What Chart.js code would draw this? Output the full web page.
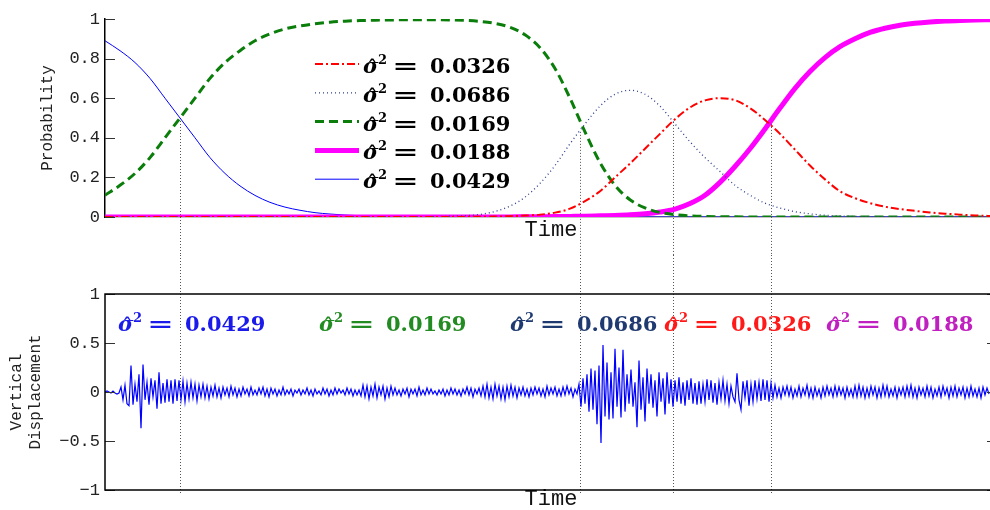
<!DOCTYPE html>
<html>
<head>
<meta charset="utf-8">
<title>Change point posterior probabilities</title>
<script src="https://cdn.jsdelivr.net/npm/chart.js@4.4.1/dist/chart.umd.min.js"></script>
<style>
    html, body { margin: 0; padding: 0; background: #fff; overflow: hidden; width: 990px; height: 510px; }
    #wrap { position: relative; width: 997px; height: 510px; }
    canvas { position: absolute; left: 0; display: block; }
    #probChart { top: 0; }
    #dispChart { top: 255px; }
</style>
</head>
<body>
<div id="wrap">
    <canvas id="probChart" width="997" height="255"></canvas>
    <canvas id="dispChart" width="997" height="255"></canvas>
</div>
<script>
// Time grid of the segment probability curves
const probTimes = [
    0, 15, 30, 45, 60, 75, 90, 105, 120, 135,
    150, 165, 180, 195, 210, 225, 240, 255, 270, 285,
    300, 315, 330, 345, 360, 375, 390, 405, 420, 435,
    450, 465, 480, 495, 510, 525, 540, 555, 570, 585,
    600, 615, 630, 645, 660, 675, 690, 705, 720, 735,
    750, 765, 780, 795, 810, 825, 840, 855, 870, 885
];

// Posterior probability of each segment
const probRed = [
    0, 0, 0, 0, 0, 0, 0, 0, 0, 0,
    0, 0, 0, 0, 0, 0, 0, 0, 0, 0,
    0, 0, 0, 0, 0.0005, 0.001, 0.002, 0.004, 0.007, 0.012,
    0.022, 0.042, 0.08, 0.13, 0.20, 0.27, 0.345, 0.42, 0.494, 0.553,
    0.589, 0.60, 0.59, 0.55, 0.49, 0.42, 0.34, 0.26, 0.19, 0.13,
    0.095, 0.07, 0.052, 0.04, 0.031, 0.023, 0.017, 0.012, 0.008, 0.005
];
const probDotted = [
    0, 0, 0, 0, 0, 0, 0, 0, 0, 0,
    0, 0, 0, 0, 0, 0, 0, 0, 0, 0,
    0.0005, 0.001, 0.002, 0.004, 0.007, 0.013, 0.028, 0.055, 0.10, 0.17,
    0.26, 0.37, 0.47, 0.56, 0.62, 0.64, 0.62, 0.56, 0.47, 0.38,
    0.30, 0.23, 0.16, 0.11, 0.07, 0.045, 0.027, 0.016, 0.009, 0.005,
    0.003, 0.0015, 0.0008, 0.0004, 0, 0, 0, 0, 0, 0
];
const probGreen = [
    0.11, 0.16, 0.22, 0.30, 0.40, 0.50, 0.60, 0.70, 0.78, 0.84,
    0.89, 0.925, 0.95, 0.965, 0.976, 0.984, 0.989, 0.992, 0.994, 0.995,
    0.996, 0.996, 0.996, 0.995, 0.993, 0.988, 0.978, 0.958, 0.92, 0.855,
    0.75, 0.60, 0.43, 0.275, 0.16, 0.087, 0.046, 0.023, 0.012, 0.006,
    0.003, 0.0015, 0.0008, 0.0004, 0.0002, 0.0001, 0, 0, 0, 0,
    0, 0, 0, 0, 0, 0, 0, 0, 0, 0
];
const probMagenta = [
    0, 0, 0, 0, 0, 0, 0, 0, 0, 0,
    0, 0, 0, 0, 0, 0, 0, 0, 0, 0,
    0, 0, 0, 0, 0, 0, 0, 0.0005, 0.001, 0.0015,
    0.002, 0.003, 0.004, 0.006, 0.008, 0.011, 0.016, 0.025, 0.04, 0.068,
    0.11, 0.175, 0.255, 0.345, 0.445, 0.55, 0.65, 0.735, 0.805, 0.86,
    0.90, 0.932, 0.953, 0.968, 0.978, 0.985, 0.99, 0.993, 0.995, 0.996
];
const probBlue = [
    0.89, 0.84, 0.78, 0.70, 0.60, 0.50, 0.40, 0.30, 0.22, 0.157,
    0.109, 0.074, 0.05, 0.034, 0.022, 0.015, 0.01, 0.0065, 0.0043, 0.0028,
    0.0018, 0.0012, 0.0008, 0.0005, 0.0003, 0.0002, 0.0001, 0, 0, 0,
    0, 0, 0, 0, 0, 0, 0, 0, 0, 0,
    0, 0, 0, 0, 0, 0, 0, 0, 0, 0,
    0, 0, 0, 0, 0, 0, 0, 0, 0, 0
];

// Estimated variance for each curve, in legend order
const curveVariance = ['0.0326', '0.0686', '0.0169', '0.0188', '0.0429'];
// Estimated variance of each segment, left to right
const segmentVariance = ['0.0429', '0.0169', '0.0686', '0.0326', '0.0188'];

const probTickValues = [0, 0.2, 0.4, 0.6, 0.8, 1];
const probTickLabels = ['0', '0.2', '0.4', '0.6', '0.8', '1'];
const dispTickValues = [-1, -0.5, 0, 0.5, 1];
const dispTickLabels = ['\u22121', '\u22120.5', '0', '0.5', '1'];

// Detected change points and the probability where each marker starts
const changeTimes = [75, 474.5, 567.5, 666];
const changeProbs = [0.5, 0.43, 0.48, 0.47];

// Seismometer trace, one sample every SAMPLE_STEP time units
const SAMPLE_STEP = 2;
const displacement = [
    0, 0.01, 0, -0.01, 0.01, -0.01, -0.02, -0.01,
    0.05, -0.08, 0.07, -0.12, -0.14, 0.27, -0.13, 0.08, -0.10, 0.18,
    -0.37, 0.28, -0.08, 0.10, -0.13, 0.14, -0.05, 0.12, -0.17, 0.20,
    -0.12, 0.09, -0.11, 0.13, -0.10, 0.12, -0.12, 0.13, -0.09, 0.12,
    -0.08, 0.11, -0.10,
    0.09, -0.07, 0.10, -0.06, 0.08, -0.09, 0.07, -0.05, 0.08, -0.06,
    0.06, -0.07, 0.05, -0.04, 0.07, -0.05, 0.04, -0.06, 0.05, -0.03,
    0.04, -0.05, 0.06, -0.03, 0.04, -0.05, 0.03, -0.04, 0.05, -0.02,
    0.03, -0.04, 0.05, -0.03, 0.02,
    -0.03, 0.04, -0.02, 0.05, -0.04, 0.03, -0.05, 0.04, -0.02, 0.03,
    -0.04, 0.02, -0.03, 0.05, -0.03, 0.02, -0.02, 0.03, -0.04, 0.02,
    -0.01, 0.03, -0.03, 0.02, -0.02, 0.04, -0.03, 0.02, -0.04, 0.03,
    -0.02, 0.01, -0.03, 0.04, -0.02, 0.03, -0.04, 0.02, -0.03, 0.04,
    -0.02, 0.03, -0.01, 0.02, -0.03, 0.04, -0.02, 0.03, -0.04, 0.02,
    -0.03, 0.02,
    -0.04, 0.07, -0.05, 0.06, -0.07, 0.05, -0.04, 0.08, -0.06, 0.05,
    -0.03, 0.06, -0.07, 0.04, -0.05, 0.06, -0.03,
    0.04, -0.03, 0.02, -0.04, 0.03, -0.02, 0.04, -0.05, 0.03, -0.02,
    0.03, -0.04, 0.05, -0.03, 0.02, -0.03, 0.04, -0.02, 0.03, -0.02,
    0.01, -0.03, 0.02, -0.02, 0.03, -0.04, 0.02, -0.03, 0.04, -0.02,
    0.03, -0.03, 0.02, -0.04, 0.03, -0.02, 0.05, -0.03, 0.04, -0.05,
    0.03, -0.02, 0.04,
    -0.04, 0.06, -0.05, 0.08, -0.06, 0.05, -0.07, 0.08, -0.04, 0.06,
    -0.07, 0.05, -0.08, 0.06, -0.05, 0.07, -0.04, 0.05, -0.06,
    0.04, -0.03, 0.05, -0.04, 0.03, -0.05, 0.04, -0.03, 0.05, -0.02,
    0.04, -0.04, 0.03, -0.05, 0.06, -0.03, 0.04, -0.02, 0.05, -0.04,
    0.03, -0.04, 0.05, -0.03, 0.06, -0.02, 0.04, -0.05, 0.03, -0.02,
    0.08, -0.15, 0.14, -0.12, 0.18, -0.20, 0.24, -0.18, 0.22, -0.33,
    0.27, -0.52, 0.48, -0.25, 0.30, -0.28, 0.20, -0.27, 0.44, -0.15,
    0.25, -0.26, 0.43, -0.20, 0.18, -0.12, 0.23, -0.15, 0.10, -0.36,
    0.32, -0.18, 0.15, -0.30, 0.24, -0.12, 0.18, -0.16, 0.12, -0.25,
    0.20, -0.10, 0.14, -0.23, 0.20, -0.12, 0.13, -0.15, 0.12, -0.10,
    0.15, -0.12, 0.10, -0.14, 0.12, -0.08, 0.14, -0.12, 0.09, -0.13,
    0.11,
    -0.12, 0.08, -0.10, 0.13, -0.08, 0.12, -0.11, 0.09, -0.13, 0.10,
    -0.07, 0.12, -0.09, 0.08, -0.12, 0.06, -0.05, -0.10, 0.19, -0.08,
    -0.18, 0.11, -0.06, 0.12, -0.14, 0.08, -0.10, 0.12, -0.07, 0.10,
    -0.09, 0.13, -0.08, 0.12, -0.10, 0.09, -0.06, 0.07,
    -0.05, 0.04, -0.06, 0.05, -0.03, 0.06, -0.04, 0.05, -0.06, 0.03,
    -0.04, 0.06, -0.05, 0.04, -0.03, 0.07, -0.05, 0.04, -0.06, 0.05,
    -0.04, 0.03, -0.06, 0.05, -0.04, 0.06, -0.03, 0.04, -0.05, 0.06,
    -0.04, 0.05, -0.03, 0.04, -0.06, 0.05, -0.04, 0.03, -0.05, 0.06,
    -0.05, 0.07, -0.04, 0.05, -0.06, 0.04, -0.05, 0.06, -0.03, 0.05,
    -0.06, 0.04, -0.05, 0.07, -0.04, 0.06, -0.05, 0.03, -0.04, 0.05,
    -0.06, 0.04, -0.03, 0.05, -0.05, 0.06, -0.04, 0.07, -0.05, 0.04,
    -0.06, 0.05, -0.03, 0.04, -0.05, 0.06, -0.04, 0.05, -0.06, 0.03,
    -0.04, 0.05, -0.05, 0.06, -0.03, 0.04, -0.06, 0.05, -0.04, 0.06,
    -0.05, 0.04, -0.03, 0.05, -0.06, 0.04, -0.05, 0.06, -0.04, 0.03,
    -0.05, 0.04, -0.06, 0.05, -0.03, 0.04, -0.02
];

const MONO = "'Liberation Mono', 'DejaVu Sans Mono', monospace";
const SERIF = "'DejaVu Serif', serif";
const X_MAX = 892;

function points(xs, ys) {
    return ys.map((v, i) => ({ x: xs[i], y: v }));
}

// Draws "σ̂² = value" in a bold math style
function drawSigmaLabel(ctx, x, baseline, value, color) {
    ctx.save();
    ctx.fillStyle = color;
    ctx.textBaseline = 'alphabetic';
    ctx.textAlign = 'left';
    ctx.font = 'italic bold 21px ' + SERIF;
    ctx.fillText('\u03C3', x, baseline);
    const sw = ctx.measureText('\u03C3').width;
    ctx.font = 'bold 18px ' + SERIF;
    ctx.textAlign = 'center';
    ctx.fillText('\u02C6', x + sw / 2 + 1.5, baseline + 1);
    ctx.textAlign = 'left';
    ctx.font = 'bold 13px ' + SERIF;
    ctx.fillText('2', x + sw - 0.5, baseline - 9);
    ctx.font = 'bold 21px ' + SERIF;
    ctx.save();
    ctx.translate(x + 42.5, baseline);
    ctx.scale(1.5, 1);
    ctx.textAlign = 'center';
    ctx.fillText('=', 0, 0);
    ctx.restore();
    ctx.fillText(value, x + 67, baseline);
    ctx.restore();
}

// Dotted change point markers
const changePoints = {
    id: 'changePoints',
    beforeDatasetsDraw(chart, args, opts) {
        const { ctx, chartArea, scales: { x, y } } = chart;
        ctx.save();
        ctx.strokeStyle = '#555';
        ctx.lineWidth = 1;
        ctx.setLineDash([1, 2]);
        changeTimes.forEach((t, i) => {
            const px = Math.round(x.getPixelForValue(t)) + 0.5;
            const y0 = opts.fromProb ? y.getPixelForValue(changeProbs[i]) : 0;
            const y1 = opts.fromProb ? chart.height : chartArea.bottom + 5;
            ctx.beginPath();
            ctx.moveTo(px, y0);
            ctx.lineTo(px, y1);
            ctx.stroke();
        });
        ctx.restore();
    }
};

// Tick marks drawn inside the plot box
const inwardTicks = {
    id: 'inwardTicks',
    afterDatasetsDraw(chart, args, opts) {
        const { ctx, chartArea, scales: { y } } = chart;
        ctx.save();
        ctx.strokeStyle = '#333';
        ctx.lineWidth = 1;
        y.ticks.forEach(t => {
            const py = Math.round(y.getPixelForValue(t.value)) + 0.5;
            ctx.beginPath();
            ctx.moveTo(chartArea.left, py);
            ctx.lineTo(chartArea.left + 10, py);
            if (opts.both) {
                ctx.moveTo(chartArea.right, py);
                ctx.lineTo(chartArea.right - 10, py);
            }
            ctx.stroke();
        });
        ctx.restore();
    }
};

// Legend with line samples and variance labels
const curveLegend = {
    id: 'curveLegend',
    afterDatasetsDraw(chart) {
        const { ctx } = chart;
        chart.data.datasets.forEach((ds, i) => {
            const rowY = 64 + i * 28.8;
            ctx.save();
            ctx.strokeStyle = ds.borderColor;
            ctx.lineWidth = ds.borderWidth;
            ctx.setLineDash(ds.borderDash || []);
            ctx.beginPath();
            ctx.moveTo(315, rowY);
            ctx.lineTo(359, rowY);
            ctx.stroke();
            ctx.restore();
            drawSigmaLabel(ctx, 363, rowY + 9, curveVariance[i], '#000');
        });
    }
};

// Box around the displacement panel and the per-segment labels
const segmentLabels = {
    id: 'segmentLabels',
    afterDatasetsDraw(chart, args, opts) {
        const { ctx, chartArea } = chart;
        ctx.save();
        ctx.strokeStyle = '#000';
        ctx.lineWidth = 1.5;
        ctx.strokeRect(chartArea.left, chartArea.top, chartArea.right - chartArea.left, chartArea.bottom - chartArea.top);
        ctx.restore();
        segmentVariance.forEach((v, i) => {
            drawSigmaLabel(ctx, opts.left[i], opts.baseline, v, opts.colors[i]);
        });
    }
};

const tickFont = { family: MONO, size: 17 };
const titleFont = { family: MONO, size: 16 };

// Segment probability panel
new Chart(document.getElementById('probChart'), {
    type: 'line',
    data: {
        datasets: [
            { data: points(probTimes, probRed), borderColor: '#ff0000', borderWidth: 2, borderDash: [8, 3, 2, 3] },
            { data: points(probTimes, probDotted), borderColor: '#2d3f8e', borderWidth: 1.3, borderDash: [1, 3] },
            { data: points(probTimes, probGreen), borderColor: '#0a7d0a', borderWidth: 3, borderDash: [9, 5] },
            { data: points(probTimes, probMagenta), borderColor: '#ff00ff', borderWidth: 5 },
            { data: points(probTimes, probBlue), borderColor: '#0000ff', borderWidth: 1 }
        ]
    },
    options: {
        responsive: false,
        animation: false,
        layout: { padding: { top: 19, left: 0, right: 0, bottom: 0 } },
        elements: { point: { radius: 0 }, line: { cubicInterpolationMode: 'monotone', fill: false } },
        plugins: {
            legend: { display: false },
            tooltip: { enabled: false },
            changePoints: { fromProb: true },
            inwardTicks: { both: false }
        },
        scales: {
            x: {
                type: 'linear',
                min: 0,
                max: X_MAX,
                ticks: { display: false },
                grid: { display: false, drawTicks: false },
                border: { color: '#8a8a8a', width: 1.5 },
                title: { display: true, text: 'Time', font: { family: MONO, size: 22 }, color: '#111', padding: { top: 0, bottom: 12 } },
                afterFit(scale) { scale.height = 38; }
            },
            y: {
                min: 0,
                max: 1,
                afterBuildTicks(scale) { scale.ticks = probTickValues.map(v => ({ value: v })); },
                ticks: { font: tickFont, color: '#222', padding: 5, callback: (v, i) => probTickLabels[i] },
                grid: { display: false, drawTicks: false },
                border: { color: '#000', width: 1.5 },
                title: { display: true, text: 'Probability', font: titleFont, color: '#222', padding: { top: 38, bottom: 0 } },
                afterFit(scale) { scale.width = 105; }
            }
        }
    },
    plugins: [changePoints, inwardTicks, curveLegend]
});

// Vertical displacement panel
new Chart(document.getElementById('dispChart'), {
    type: 'line',
    data: {
        datasets: [{
            data: displacement.map((v, i) => ({ x: i * SAMPLE_STEP, y: v })),
            borderColor: '#0000ff',
            borderWidth: 1.2,
            tension: 0
        }]
    },
    options: {
        responsive: false,
        animation: false,
        layout: { padding: { top: 39, left: 0, right: 0, bottom: 0 } },
        elements: { point: { radius: 0 }, line: { fill: false } },
        plugins: {
            legend: { display: false },
            tooltip: { enabled: false },
            changePoints: { fromProb: false },
            inwardTicks: { both: true },
            segmentLabels: {
                left: [118, 319, 510, 664, 826],
                baseline: 76,
                colors: ['#1a1aeb', '#228b22', '#1f3a70', '#ff1a1a', '#c020c0']
            }
        },
        scales: {
            x: {
                type: 'linear',
                min: 0,
                max: X_MAX,
                ticks: { display: false },
                grid: { display: false, drawTicks: false },
                border: { display: false },
                title: { display: true, text: 'Time', font: { family: MONO, size: 22, lineHeight: 1 }, color: '#111', padding: { top: 0, bottom: 0 } },
                afterFit(scale) { scale.height = 20; }
            },
            y: {
                min: -1,
                max: 1,
                afterBuildTicks(scale) { scale.ticks = dispTickValues.map(v => ({ value: v })); },
                ticks: { font: tickFont, color: '#222', padding: 5, callback: (v, i) => dispTickLabels[i] },
                grid: { display: false, drawTicks: false },
                border: { display: false },
                title: { display: true, text: ['Vertical', 'Displacement'], font: { family: MONO, size: 16, lineHeight: 1.15 }, color: '#222', padding: { top: 8, bottom: 0 } },
                afterFit(scale) { scale.width = 105; }
            }
        }
    },
    plugins: [changePoints, inwardTicks, segmentLabels]
});
</script>
</body>
</html>
